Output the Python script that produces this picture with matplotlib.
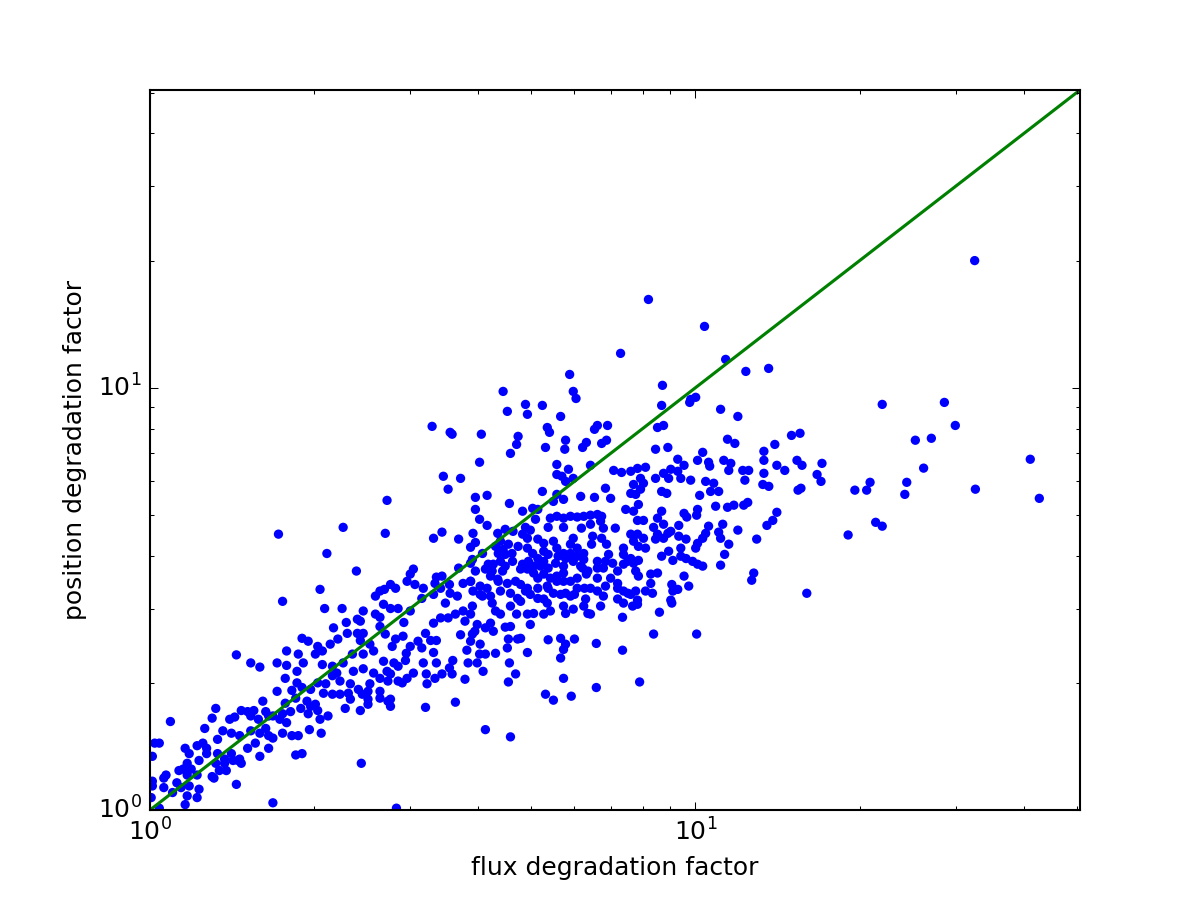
import matplotlib
matplotlib.use("Agg")
import matplotlib.pyplot as plt

# flux / position degradation factors
flux_factor = [
    1.75, 2.09, 2.25, 2.46, 2.59, 2.64, 2.40, 2.43, 2.29, 2.17,
    2.30, 2.40, 2.46, 2.64, 2.70, 1.90, 1.95, 2.03, 2.14, 2.21,
    2.43, 2.53, 1.78, 1.87, 2.01, 2.07, 1.44, 1.53, 1.59, 1.71,
    1.78, 1.91, 1.86, 2.07, 2.16, 2.26, 2.35, 2.46, 2.57, 2.68,
    2.20, 2.36, 2.46, 2.57, 2.72, 1.77, 1.86, 2.03, 2.10, 2.16,
    2.23, 2.33, 2.41, 2.53, 2.64, 2.73, 1.71, 1.82, 1.90, 1.97,
    2.08, 2.16, 2.23, 2.31, 2.33, 2.45, 2.51, 2.64, 2.51, 2.64,
    2.73, 2.28, 2.43, 2.51, 1.61, 1.77, 1.85, 1.94, 2.01, 1.97,
    2.03, 2.12, 2.05, 1.95, 1.89, 1.81, 1.75, 1.78, 1.73, 1.68,
    1.63, 1.55, 1.47, 1.51, 1.53, 1.58, 1.65, 1.32, 1.30, 1.40,
    1.43, 1.09, 1.26, 1.36, 1.33, 1.41, 1.46, 1.53, 1.59, 1.65,
    1.63, 1.68, 1.75, 1.82, 1.87, 1.96, 2.06, 1.56, 1.51, 1.65,
    1.59, 1.25, 1.27, 1.22, 1.16, 1.02, 1.04, 1.01, 1.18, 1.23,
    1.27, 1.33, 1.37, 1.41, 1.42, 1.46, 1.47, 1.37, 1.32, 1.34,
    1.30, 1.38, 1.45, 1.85, 1.90, 2.44, 1.17, 1.15, 1.13, 1.19,
    1.22, 1.17, 1.07, 1.06, 1.01, 1.01, 1.06, 1.12, 1.14, 1.18,
    1.23, 1.22, 1.17, 1.10, 1.04, 1.16, 1.44, 1.68, 1.005, 1.31,
    2.83, 2.76, 2.76, 3.20, 3.63, 4.12, 4.58, 5.31, 5.49, 5.92,
    6.58, 5.73, 5.66, 5.73, 5.78, 5.66, 6.00, 5.37, 4.92, 4.54,
    4.68, 4.56, 4.30, 4.08, 3.98, 3.83, 3.78, 3.58, 3.59, 3.54,
    3.43, 3.35, 3.33, 3.22, 3.21, 3.17, 3.31, 3.00, 2.95, 2.94,
    2.85, 2.80, 2.90, 2.85, 3.04, 2.96, 2.76, 2.82, 2.91, 3.10,
    3.15, 3.27, 3.35, 3.20, 3.31, 3.41, 3.52, 3.78, 3.87, 3.90,
    3.71, 3.81, 3.94, 3.90, 4.03, 4.02, 4.12, 4.12, 4.21, 4.26,
    4.30, 4.39, 4.48, 4.58, 4.54, 4.72, 4.78, 4.70, 4.92, 5.05,
    4.98, 4.58, 4.78, 4.24, 5.27, 5.42, 5.35, 5.73, 5.78, 5.97,
    6.24, 6.35, 6.42, 6.70, 7.38, 7.35, 7.35, 6.58, 3.48, 3.00,
    2.85, 2.92, 2.78,
    1.72, 2.26, 2.72, 2.70, 2.11, 2.39, 2.05, 2.59, 2.64, 2.69, 2.76,
    3.29, 3.55, 3.58, 4.05, 4.52, 4.88, 4.92, 5.24, 5.66, 4.73,
    4.70, 4.58, 4.02, 5.35, 5.40, 5.31, 5.78, 5.76, 6.21, 6.31,
    6.53, 6.61, 6.90, 6.73, 6.87, 3.45, 3.71, 3.52, 5.57, 5.85,
    6.42, 5.57, 5.69, 5.78, 5.97, 7.08, 7.32, 7.61, 5.24, 5.57,
    5.49, 5.73, 6.16, 6.53, 6.84, 6.99, 7.61, 3.95, 4.15,
    3.95, 4.56, 4.82, 5.03, 5.14, 4.02, 4.15, 5.09, 4.88, 4.98,
    5.42, 5.57, 5.73, 5.90, 6.07, 6.24, 6.42, 6.61, 6.73,
    5.37, 5.73, 6.18, 6.42, 6.70, 6.78, 7.13, 7.45,
    3.31, 3.43, 3.68, 3.91, 3.95, 3.87, 4.34, 4.48, 4.63, 4.39,
    4.54, 4.73, 4.92, 5.14, 5.49, 5.97, 6.48, 6.73, 6.87, 6.93,
    7.38, 7.38, 7.61, 3.90, 3.68, 3.04, 3.00,
    2.82, 2.96, 3.06, 3.17, 3.35, 3.43, 3.33, 3.41, 3.54,
    3.15, 3.31, 3.55, 3.66, 4.03, 4.15, 3.75, 3.87, 4.12, 4.24,
    4.26, 4.39, 4.35, 4.48, 4.61, 4.21, 4.34, 4.43, 4.52, 4.68,
    4.82, 4.94, 4.92, 5.14, 5.20, 5.05, 5.27, 5.37, 5.57, 5.73,
    5.90, 6.07, 5.97, 6.24, 6.21, 6.35, 6.61, 6.78, 7.05, 7.20, 7.38,
    5.73, 5.57, 5.27, 5.42, 4.88, 4.98, 5.14, 5.35, 5.78, 6.00,
    6.42, 6.61, 6.84, 7.20, 7.38, 7.52, 4.39, 4.58, 4.72, 3.91, 4.07, 6.29,
    7.29, 5.88, 5.97, 6.04, 4.44, 8.20, 10.39, 11.36, 12.37, 13.62, 8.70, 9.80, 10.01,
    8.67, 9.76, 11.12, 11.96, 8.52, 8.74, 11.45, 11.81, 8.45, 8.90,
    13.98, 15.0, 15.55, 13.35, 13.35, 9.28, 9.53, 10.09, 10.31, 10.57,
    10.62, 11.27, 11.61, 11.51, 12.21, 12.52, 12.32, 13.35, 14.10, 14.58,
    15.35, 15.68, 17.06, 16.71, 16.99, 15.42, 15.61, 13.29, 13.63,
    7.83, 8.10, 7.93, 7.70, 8.03, 7.77, 7.93, 8.45, 8.74, 9.01, 8.93, 9.28, 9.40, 9.80, 8.67,
    8.86, 10.44, 10.80, 11.03, 10.66, 10.18, 10.89, 11.45, 11.76, 12.26, 12.47, 10.09, 10.05, 9.53,
    9.64, 8.67, 8.52, 7.86, 7.70, 7.83, 8.03, 8.38, 8.74, 9.32, 9.01, 10.57, 10.44, 10.31, 10.09,
    11.22, 11.03, 11.12, 11.51, 11.96, 14.10, 13.86, 13.52, 12.95, 8.52, 8.74, 8.90, 8.03, 8.45, 9.32,
    9.61, 7.70, 7.86, 8.10, 9.40, 8.93, 8.67, 9.09, 9.40, 9.61, 9.88, 10.09, 10.31, 10.01, 11.31, 11.12,
    7.61, 7.86, 7.77, 7.86, 8.28, 8.52, 8.28, 8.10, 8.34, 9.05, 9.53, 9.72, 9.28, 9.09, 12.79, 12.68, 16.0,
    19.05, 19.6, 20.6, 20.9, 7.61, 7.83, 9.01, 7.67, 7.83, 9.05, 8.59, 8.38, 10.05, 7.90,
    32.5, 22.0, 28.6, 29.95, 25.3, 27.07, 26.2, 24.4, 24.2, 32.6, 41.1, 42.7, 21.4, 22.0,
    # dense core, second reading
    4.82, 4.07, 4.44, 4.92, 5.03, 5.27, 6.07, 6.24, 6.16, 6.45,
    6.84, 6.61, 5.90, 5.78, 5.73, 5.60, 5.54, 5.27, 5.37, 5.05,
    4.78, 4.62, 4.48, 4.17, 4.35, 4.78, 4.92, 5.14, 5.57, 5.37,
    5.49, 5.66, 5.73, 5.90, 6.07, 6.07, 6.26, 6.31, 6.61, 6.99,
    7.51, 7.70, 7.83, 4.03, 4.21, 5.14, 5.27, 5.90, 6.78, 7.20,
    7.77, 3.87, 3.95, 3.87, 7.20,
    2.68, 2.76, 4.30, 3.75, 3.63, 3.98, 3.87, 4.52,
]

position_factor = [
    3.12, 3.00, 3.00, 2.96, 2.91, 2.86, 2.83, 2.80, 2.78, 2.70,
    2.62, 2.62, 2.62, 2.72, 2.61, 2.55, 2.51, 2.44, 2.47, 2.54,
    2.52, 2.47, 2.38, 2.34, 2.34, 2.38, 2.33, 2.23, 2.18, 2.23,
    2.20, 2.23, 2.13, 2.21, 2.19, 2.23, 2.34, 2.34, 2.38, 2.25,
    2.11, 2.13, 2.16, 2.11, 2.13, 2.05, 2.00, 2.00, 1.99, 2.08,
    2.02, 1.99, 1.93, 1.99, 2.05, 2.02, 1.91, 1.92, 1.95, 1.93,
    1.89, 1.88, 1.88, 1.89, 1.83, 1.88, 1.91, 1.91, 1.83, 1.84,
    1.81, 1.74, 1.72, 1.78, 1.81, 1.79, 1.84, 1.81, 1.78, 1.76,
    1.72, 1.67, 1.64, 1.69, 1.74, 1.71, 1.69, 1.61, 1.64, 1.67,
    1.71, 1.72, 1.72, 1.71, 1.67, 1.64, 1.67, 1.74, 1.65, 1.64,
    1.66, 1.62, 1.56, 1.54, 1.47, 1.52, 1.50, 1.54, 1.52, 1.50,
    1.56, 1.48, 1.52, 1.50, 1.50, 1.55, 1.52, 1.44, 1.40, 1.40,
    1.34, 1.44, 1.40, 1.42, 1.40, 1.44, 1.44, 1.34, 1.36, 1.31,
    1.36, 1.36, 1.32, 1.36, 1.31, 1.32, 1.29, 1.29, 1.29, 1.24,
    1.20, 1.24, 1.31, 1.35, 1.36, 1.29, 1.29, 1.25, 1.24, 1.25,
    1.21, 1.21, 1.21, 1.19, 1.17, 1.14, 1.13, 1.16, 1.13, 1.14,
    1.12, 1.07, 1.08, 1.10, 1.01, 1.03, 1.15, 1.04, 1.07, 1.19,
    1.01, 1.83, 1.76, 1.75, 1.80, 1.55, 1.49, 1.88, 1.82, 1.86,
    1.95, 2.05, 2.29, 2.40, 2.47, 2.55, 2.54, 2.53, 2.36, 2.01,
    2.10, 2.23, 2.35, 2.13, 2.23, 2.23, 2.04, 2.10, 2.26, 2.17,
    2.10, 2.23, 2.05, 1.99, 2.10, 2.23, 2.36, 2.44, 2.35, 2.26,
    2.19, 2.23, 2.00, 2.02, 2.11, 2.05, 2.10, 2.54, 2.58, 2.51,
    2.42, 2.52, 2.52, 2.62, 2.77, 2.85, 2.85, 2.80, 2.91, 3.04,
    2.60, 2.39, 2.65, 2.61, 2.47, 2.34, 2.34, 2.70, 2.77, 2.65,
    2.96, 2.91, 2.71, 2.72, 2.54, 2.54, 2.55, 2.91, 2.91, 2.92,
    2.75, 3.04, 3.12, 3.09, 2.91, 2.96, 3.09, 3.04, 2.92, 2.99,
    3.04, 2.92, 2.91, 3.04, 3.09, 2.86, 2.39, 2.48, 3.09, 2.96,
    3.00, 2.78, 2.44,
    4.50, 4.67, 5.41, 4.52, 4.05, 3.68, 3.33, 3.21, 3.30, 3.33, 3.42,
    8.10, 7.84, 7.76, 7.76, 8.79, 9.13, 8.65, 9.08, 8.55, 7.67,
    7.34, 6.99, 6.66, 8.05, 7.84, 7.22, 7.51, 7.15, 7.22, 7.42,
    7.97, 8.14, 8.14, 7.38, 7.51, 6.17, 6.10, 5.75, 6.58, 6.41,
    6.55, 6.23, 6.17, 6.00, 6.10, 6.37, 6.30, 6.34, 5.68, 5.59,
    5.38, 5.44, 5.53, 5.50, 5.78, 5.47, 5.62, 5.50, 5.56,
    5.15, 5.32, 5.10, 5.18, 5.15, 4.88, 4.72, 4.88, 4.67, 4.60,
    4.91, 4.96, 4.91, 4.96, 4.94, 4.96, 4.99, 5.01, 4.96,
    4.67, 4.67, 4.65, 4.75, 4.83, 4.65, 4.65, 5.15,
    4.40, 4.55, 4.38, 4.52, 4.30, 4.19, 4.52, 4.62, 4.57, 4.33,
    4.26, 4.21, 4.40, 4.38, 4.33, 4.40, 4.45, 4.40, 4.26, 4.03,
    4.17, 4.03, 4.50, 3.92, 3.74, 3.72, 3.62,
    3.35, 3.48, 3.42, 3.35, 3.56, 3.58, 3.44, 3.35, 3.42,
    3.17, 3.24, 3.26, 3.21, 3.39, 3.35, 3.44, 3.48, 3.72, 3.68,
    3.82, 3.88, 4.05, 4.03, 4.05, 3.58, 3.52, 3.68, 3.44, 3.48,
    3.82, 3.88, 3.72, 3.94, 3.78, 3.64, 4.10, 4.03, 4.17, 4.05,
    4.26, 3.99, 3.88, 3.92, 3.74, 3.68, 3.88, 3.74, 3.84, 3.68, 3.82,
    3.64, 3.58, 3.62, 3.54, 3.30, 3.24, 3.35, 3.39, 3.26, 3.24,
    3.35, 3.30, 3.39, 3.44, 3.30, 3.26, 3.30, 3.26, 3.17, 3.30, 3.21, 3.16,
    12.06, 10.75, 9.80, 9.43, 9.80, 16.18, 13.97, 11.67, 10.93, 11.11, 10.13, 9.38, 9.49,
    9.08, 9.23, 8.89, 8.55, 8.05, 8.14, 7.55, 7.38, 7.15, 7.22,
    7.34, 7.71, 7.80, 7.07, 6.73, 6.77, 6.55, 6.73, 7.03, 6.66,
    6.52, 6.73, 6.62, 6.37, 6.37, 6.37, 6.04, 6.27, 6.55, 6.37,
    6.73, 6.55, 6.62, 6.23, 6.00, 5.72, 5.78, 5.90, 5.84,
    6.44, 6.48, 6.10, 5.90, 5.94, 5.59, 5.75, 6.10, 6.27, 6.41, 6.10, 6.34, 6.10, 6.04, 5.68,
    5.62, 6.00, 5.94, 5.68, 5.68, 5.56, 5.24, 5.21, 5.27, 5.27, 5.35, 5.15, 4.99, 5.04,
    4.94, 5.10, 4.91, 5.29, 5.10, 4.85, 4.85, 4.67, 4.75, 4.72, 4.57, 4.70, 4.52, 4.40, 4.28,
    4.75, 4.55, 4.40, 4.26, 4.60, 5.07, 4.85, 4.72, 4.38, 4.50, 4.40, 4.52, 4.40, 4.38, 4.45,
    4.38, 4.33, 4.21, 4.17, 4.17, 4.10, 3.99, 3.90, 3.99, 3.94, 3.88, 3.82, 3.78, 4.17, 4.03, 3.80,
    3.94, 3.90, 3.68, 3.58, 3.62, 3.64, 3.44, 3.30, 3.26, 3.42, 3.58, 3.39, 3.33, 3.30, 3.64, 3.50, 3.26,
    4.48, 5.72, 5.72, 5.97, 3.24, 3.14, 3.14, 3.04, 3.07, 3.09, 2.94, 2.61, 2.61, 2.01,
    20.0, 9.13, 9.23, 8.14, 7.51, 7.59, 6.45, 5.97, 5.59, 5.75, 6.77, 5.47, 4.80, 4.70,
    # dense core, second reading
    4.50, 4.05, 4.14, 4.17, 4.05, 4.28, 4.17, 4.05, 3.78, 4.26,
    3.88, 3.74, 4.05, 3.94, 3.78, 3.99, 3.84, 3.88, 3.74, 3.78,
    3.72, 3.88, 3.78, 3.82, 3.48, 3.42, 3.35, 3.54, 3.48, 3.35,
    3.26, 3.24, 3.48, 3.48, 3.54, 3.35, 3.35, 3.62, 3.54, 3.54,
    3.88, 3.84, 4.50, 3.24, 3.21, 3.17, 3.16, 3.21, 3.21, 3.16,
    3.30, 3.84, 3.68, 3.48, 3.35,
    3.07, 3.00, 4.21, 2.96, 2.91, 2.75, 2.51, 2.42,
]

axis_limit = 50.7


def main() -> None:
    plt.style.use("classic")
    fig = plt.figure(figsize=(8, 6))
    ax = fig.add_subplot(111)

    ax.scatter(flux_factor, position_factor, s=20, c="b", edgecolors="none")
    ax.plot([1, axis_limit], [1, axis_limit], color="g", linewidth=1.5)

    ax.set_xscale("log")
    ax.set_yscale("log")
    ax.set_xlim(1, axis_limit)
    ax.set_ylim(1, axis_limit)
    ax.set_xlabel("flux degradation factor")
    ax.set_ylabel("position degradation factor")

    fig.savefig("out.png", dpi=150, facecolor="white")
    plt.close(fig)


if __name__ == "__main__":
    main()
